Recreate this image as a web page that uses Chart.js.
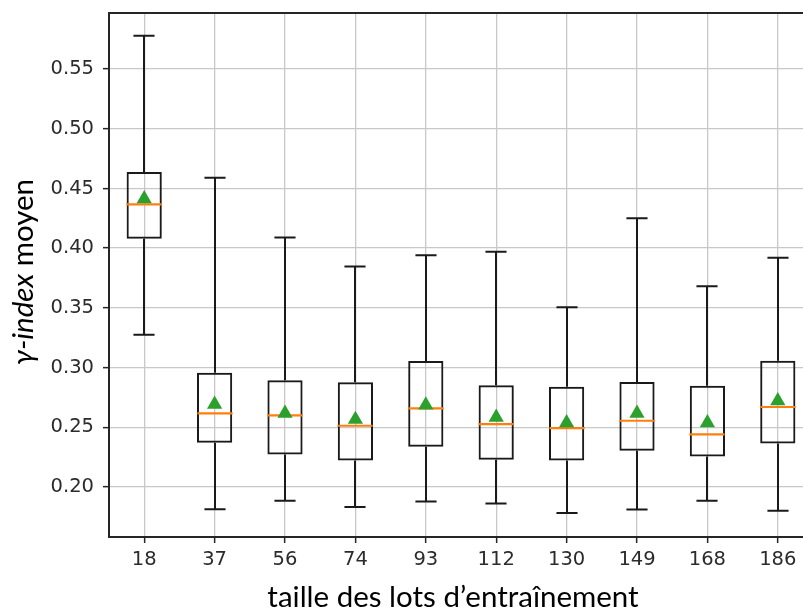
<!DOCTYPE html>
<html>
<head>
<meta charset="utf-8">
<script src="https://cdn.jsdelivr.net/npm/chart.js@4.4.0/dist/chart.umd.min.js"></script>
<style>
  html, body { margin: 0; padding: 0; background: #fff; overflow: hidden; }
  #wrap { width: 840px; height: 612px; position: relative; }
</style>
</head>
<body>
<div id="wrap"><canvas id="chart"></canvas></div>
<script>
// taille des lots (categories)
const LOTS = ['18', '37', '56', '74', '93', '112', '130', '149', '168', '186'];
// box plot stats
const W_LOW  = [0.3275, 0.1813, 0.1883, 0.1832, 0.1877, 0.1861, 0.1782, 0.1810, 0.1883, 0.1799];
const Q1     = [0.4078, 0.2369, 0.2272, 0.2221, 0.2336, 0.2227, 0.2221, 0.2302, 0.2255, 0.2364];
const MEDIAN = [0.4366, 0.2616, 0.2599, 0.2512, 0.2658, 0.2526, 0.2492, 0.2554, 0.2439, 0.2669];
const Q3     = [0.4637, 0.2956, 0.2893, 0.2876, 0.3054, 0.2851, 0.2839, 0.2878, 0.2847, 0.3057];
const W_HIGH = [0.5780, 0.4590, 0.4090, 0.3846, 0.3940, 0.3970, 0.3505, 0.4250, 0.3680, 0.3920];
const MEAN   = [0.4414, 0.2691, 0.2616, 0.2565, 0.2685, 0.2582, 0.2537, 0.2616, 0.2537, 0.2721];
const Y_TICKS = [0.20, 0.25, 0.30, 0.35, 0.40, 0.45, 0.50, 0.55];

const X_TITLE = 'taille des lots d\u2019entraînement';
const Y_TITLE_IT = '\u03b3-index';
const Y_TITLE = ' moyen';

const BOX_IDX = 1;

// whiskers + medians, drawn right after the boxes (under the mean markers)
const boxExtras = {
    id: 'boxExtras',
    afterDatasetDraw(chart, args) {
        if (args.index !== BOX_IDX) return;
        const ctx = chart.ctx, x = chart.scales.x, y = chart.scales.y;
        const step = x.width / LOTS.length;
        const half = step * 0.25, cap = step * 0.15;
        ctx.save();
        ctx.lineCap = 'butt';
        LOTS.forEach((_, i) => {
            const cx = Math.round(x.getPixelForValue(i));
            ctx.strokeStyle = '#1a1a1a';
            ctx.lineWidth = 2;
            ctx.beginPath();
            ctx.moveTo(cx, y.getPixelForValue(Q3[i]));
            ctx.lineTo(cx, y.getPixelForValue(W_HIGH[i]));
            ctx.moveTo(cx, y.getPixelForValue(Q1[i]));
            ctx.lineTo(cx, y.getPixelForValue(W_LOW[i]));
            ctx.moveTo(cx - cap, y.getPixelForValue(W_HIGH[i]));
            ctx.lineTo(cx + cap, y.getPixelForValue(W_HIGH[i]));
            ctx.moveTo(cx - cap, y.getPixelForValue(W_LOW[i]));
            ctx.lineTo(cx + cap, y.getPixelForValue(W_LOW[i]));
            ctx.stroke();
            // median
            ctx.strokeStyle = '#ff7f0e';
            ctx.lineWidth = 2.2;
            ctx.beginPath();
            ctx.moveTo(cx - half, y.getPixelForValue(MEDIAN[i]));
            ctx.lineTo(cx + half, y.getPixelForValue(MEDIAN[i]));
            ctx.stroke();
        });
        ctx.restore();
    },
    afterDraw(chart) {
        const ctx = chart.ctx, a = chart.chartArea;
        ctx.save();
        // frame (matplotlib spines)
        ctx.strokeStyle = '#262626';
        ctx.lineWidth = 2;
        ctx.strokeRect(a.left, a.top, a.right - a.left, a.bottom - a.top);
        // x title
        ctx.fillStyle = '#000';
        ctx.font = '29.5px Lato';
        ctx.textAlign = 'center';
        ctx.textBaseline = 'middle';
        ctx.fillText(X_TITLE, 453, 597);
        // y title, italic part + normal part
        const fIt = 'italic 29.5px Lato', fN = '29.5px Lato';
        ctx.font = fIt;
        const w1 = ctx.measureText(Y_TITLE_IT).width;
        ctx.font = fN;
        const w2 = ctx.measureText(Y_TITLE).width;
        ctx.translate(23, (a.top + a.bottom) / 2 - 3);
        ctx.rotate(-Math.PI / 2);
        ctx.textAlign = 'left';
        let sx = -(w1 + w2) / 2;
        ctx.font = fIt;
        ctx.fillText(Y_TITLE_IT, sx, 0);
        ctx.font = fN;
        ctx.fillText(Y_TITLE, sx + w1, 0);
        ctx.restore();
    }
};

new Chart(document.getElementById('chart'), {
    type: 'bar',
    data: {
        labels: LOTS,
        datasets: [
            {
                type: 'line',
                label: 'moyenne',
                data: MEAN,
                showLine: false,
                pointStyle: 'triangle',
                pointRadius: 8.8,
                pointHoverRadius: 8.8,
                pointBackgroundColor: '#2ca02c',
                pointBorderColor: '#2ca02c',
                pointBorderWidth: 0,
                order: 0
            },
            {
                type: 'bar',
                label: 'boîte',
                data: Q1.map((q, i) => [q, Q3[i]]),
                backgroundColor: 'rgba(0,0,0,0)',
                borderColor: '#1a1a1a',
                borderWidth: 2,
                borderSkipped: false,
                barPercentage: 0.5,
                categoryPercentage: 1.0,
                order: 1
            }
        ]
    },
    options: {
        responsive: true,
        maintainAspectRatio: false,
        animation: false,
        events: [],
        layout: { padding: { top: 13, right: 27, left: 0, bottom: 0 } },
        plugins: { legend: { display: false }, tooltip: { enabled: false } },
        scales: {
            x: {
                offset: true,
                grid: { offset: false, color: '#c8c8c8', lineWidth: 1.3, tickLength: 6, tickColor: '#262626', tickWidth: 1.5 },
                border: { display: false },
                ticks: { color: '#2b2b2b', padding: 5, font: { family: 'DejaVu Sans', size: 19.5 }, maxRotation: 0 },
                afterFit: s => { s.height = 75; s.paddingLeft = 0; s.paddingRight = 0; }
            },
            y: {
                min: 0.158,
                max: 0.597,
                grid: { color: '#c8c8c8', lineWidth: 1.3, tickLength: 6, tickColor: '#262626', tickWidth: 1.5 },
                border: { display: false },
                afterBuildTicks: s => { s.ticks = Y_TICKS.map(v => ({ value: v })); },
                ticks: { color: '#2b2b2b', padding: 9, font: { family: 'DejaVu Sans', size: 19.5 }, callback: v => v.toFixed(2) },
                afterFit: s => { s.width = 109; s.paddingTop = 0; s.paddingBottom = 0; }
            }
        }
    },
    plugins: [boxExtras]
});
</script>
</body>
</html>
